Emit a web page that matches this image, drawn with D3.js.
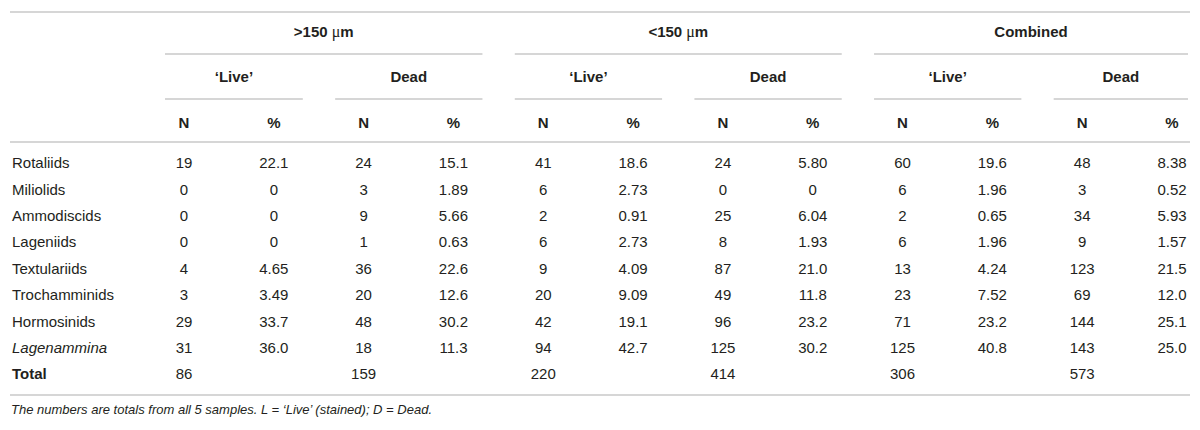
<!DOCTYPE html>
<html>
<head>
<meta charset="utf-8">
<script src="https://cdn.jsdelivr.net/npm/d3@7"></script>
<style>
  body { margin: 0; background: #fff; }
  svg { display: block; font-family: "Liberation Sans", Arial, sans-serif; }
</style>
</head>
<body>
<div id="table"></div>
<script>
// ---- table data ----
const taxa = ['Rotaliids', 'Miliolids', 'Ammodiscids', 'Lageniids', 'Textulariids',
  'Trochamminids', 'Hormosinids', 'Lagenammina']
const italicTaxa = ['Lagenammina']

const groups = ['>150', '<150', 'Combined']
const subgroups = ['\u2018Live\u2019', 'Dead']
const measures = ['N', '%']

const bigLiveN = ['19', '0', '0', '0', '4', '3', '29', '31']
const bigLivePct = ['22.1', '0', '0', '0', '4.65', '3.49', '33.7', '36.0']
const bigDeadN = ['24', '3', '9', '1', '36', '20', '48', '18']
const bigDeadPct = ['15.1', '1.89', '5.66', '0.63', '22.6', '12.6', '30.2', '11.3']
const smallLiveN = ['41', '6', '2', '6', '9', '20', '42', '94']
const smallLivePct = ['18.6', '2.73', '0.91', '2.73', '4.09', '9.09', '19.1', '42.7']
const smallDeadN = ['24', '0', '25', '8', '87', '49', '96', '125']
const smallDeadPct = ['5.80', '0', '6.04', '1.93', '21.0', '11.8', '23.2', '30.2']
const combLiveN = ['60', '6', '2', '6', '13', '23', '71', '125']
const combLivePct = ['19.6', '1.96', '0.65', '1.96', '4.24', '7.52', '23.2', '40.8']
const combDeadN = ['48', '3', '34', '9', '123', '69', '144', '143']
const combDeadPct = ['8.38', '0.52', '5.93', '1.57', '21.5', '12.0', '25.1', '25.0']

const totals = ['86', '', '159', '', '220', '', '414', '', '306', '', '573', '']

const footnote = 'The numbers are totals from all 5 samples. L = \u2018Live\u2019 (stained); D = Dead.'

// columns in display order
const columns = [bigLiveN, bigLivePct, bigDeadN, bigDeadPct,
  smallLiveN, smallLivePct, smallDeadN, smallDeadPct,
  combLiveN, combLivePct, combDeadN, combDeadPct]

const width = 1200, height = 430
const left = 10, right = 1190
const textColor = '#231f20'
const ruleColor = '#c9c9c9'

const svg = d3.select('#table').append('svg')
  .attr('width', width)
  .attr('height', height)

// column centres
const x = d3.scalePoint()
  .domain(d3.range(columns.length))
  .range([184, 1172])

// row centres
const y = d3.scalePoint()
  .domain(d3.range(taxa.length + 1))
  .range([163, 374])

// header line positions
const head = {top: 12, group: 32, groupRule: 54, sub: 77, subRule: 99, meas: 123, rule: 142, bottom: 395, note: 409}

function spanX(c0, c1) {
  return [Math.max(165, x(c0) - 28.5), Math.min(1188, x(c1) + 29)]
}

// full width rules
svg.selectAll('line.full')
  .data([head.top, head.rule, head.bottom])
  .enter().append('line')
  .attr('class', 'full')
  .attr('x1', left).attr('x2', right)
  .attr('y1', d => d).attr('y2', d => d)
  .attr('stroke', ruleColor)
  .attr('stroke-width', 1.5)

// group headings
const groupG = svg.selectAll('g.group')
  .data(groups)
  .enter().append('g')
  .attr('class', 'group')

groupG.each(function(g, i) {
  const [x0, x1] = spanX(i * 4, i * 4 + 3)
  const sel = d3.select(this)
  const t = sel.append('text')
    .attr('x', (x0 + x1) / 2)
    .attr('y', head.group)
    .attr('dy', '0.35em')
    .attr('text-anchor', 'middle')
    .attr('font-size', 15)
    .attr('font-weight', 'bold')
    .attr('fill', textColor)
  t.append('tspan').text(g)
  if (g !== 'Combined') {
    t.append('tspan').text('\u00a0\u03bc')
      .attr('font-family', 'Liberation Serif')
      .attr('font-weight', 'normal')
      .attr('font-size', 16)
    t.append('tspan').text('m')
  }
  sel.append('line')
    .attr('x1', x0).attr('x2', x1)
    .attr('y1', head.groupRule).attr('y2', head.groupRule)
    .attr('stroke', ruleColor)
    .attr('stroke-width', 1.5)

  subgroups.forEach((s, j) => {
    const c0 = i * 4 + j * 2
    const [sx0, sx1] = spanX(c0, c0 + 1)
    sel.append('text')
      .attr('x', (sx0 + sx1) / 2)
      .attr('y', head.sub)
      .attr('dy', '0.35em')
      .attr('text-anchor', 'middle')
      .attr('font-size', 15)
      .attr('font-weight', 'bold')
      .attr('fill', textColor)
      .text(s)
    sel.append('line')
      .attr('x1', sx0).attr('x2', sx1)
      .attr('y1', head.subRule).attr('y2', head.subRule)
      .attr('stroke', ruleColor)
      .attr('stroke-width', 1.5)
  })
})

// N / % headings
svg.selectAll('text.meas')
  .data(columns.map((c, i) => measures[i % 2]))
  .enter().append('text')
  .attr('class', 'meas')
  .attr('x', (d, i) => x(i))
  .attr('y', head.meas)
  .attr('dy', '0.35em')
  .attr('text-anchor', 'middle')
  .attr('font-size', 15)
  .attr('font-weight', 'bold')
  .attr('fill', textColor)
  .text(d => d)

// row labels
svg.selectAll('text.taxon')
  .data(taxa.concat(['Total']))
  .enter().append('text')
  .attr('class', 'taxon')
  .attr('x', 12)
  .attr('y', (d, i) => y(i))
  .attr('dy', '0.35em')
  .attr('font-size', 15)
  .attr('font-style', d => italicTaxa.includes(d) ? 'italic' : 'normal')
  .attr('font-weight', d => d === 'Total' ? 'bold' : 'normal')
  .attr('fill', textColor)
  .text(d => d)

// cells
const cells = []
columns.forEach((col, ci) => {
  col.forEach((v, ri) => cells.push({c: ci, r: ri, v: v}))
  cells.push({c: ci, r: taxa.length, v: totals[ci]})
})

svg.selectAll('text.cell')
  .data(cells)
  .enter().append('text')
  .attr('class', 'cell')
  .attr('x', d => x(d.c))
  .attr('y', d => y(d.r))
  .attr('dy', '0.35em')
  .attr('text-anchor', 'middle')
  .attr('font-size', 15)
  .attr('fill', textColor)
  .text(d => d.v)

// footnote
svg.append('text')
  .attr('x', 11)
  .attr('y', head.note)
  .attr('dy', '0.35em')
  .attr('font-size', 13)
  .attr('font-style', 'italic')
  .attr('fill', textColor)
  .text(footnote)
</script>
</body>
</html>
